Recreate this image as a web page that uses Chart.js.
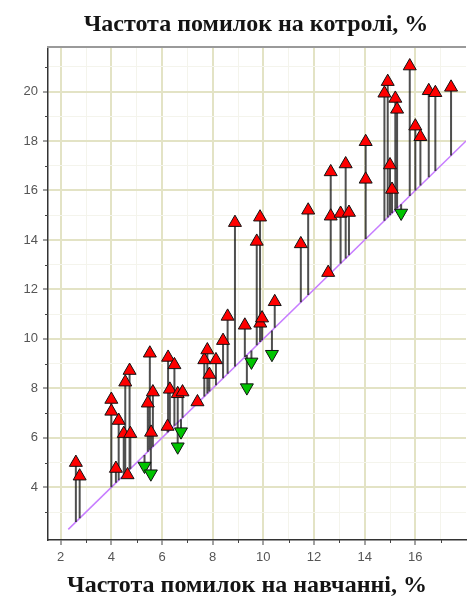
<!DOCTYPE html>
<html>
<head>
<meta charset="utf-8">
<script src="https://cdn.jsdelivr.net/npm/chart.js@4.4.1/dist/chart.umd.min.js"></script>
<style>
  html, body { margin: 0; padding: 0; background: #ffffff; }
  #wrap { width: 468px; height: 597px; position: relative; }
</style>
</head>
<body>
<div id="wrap"><canvas id="chart" width="468" height="597"></canvas></div>
<script>
// Axis titles
const titleTop = 'Частота помилок на котролі, %';
const titleBottom = 'Частота помилок на навчанні, %';

// Tick values (labelled every 2, minor marks in between)
const xTickValues = [2, 3, 4, 5, 6, 7, 8, 9, 10, 11, 12, 13, 14, 15, 16, 17];
const yTickValues = [3, 4, 5, 6, 7, 8, 9, 10, 11, 12, 13, 14, 15, 16, 17, 18, 19, 20, 21];

// Cases where the control error is higher than the training error
const upTrain = [2.6, 2.75, 4.0, 4.0, 4.18, 4.29, 4.49, 4.55, 4.64, 4.72, 4.75, 5.44, 5.52, 5.57, 5.64,
  6.22, 6.24, 6.31, 6.49, 6.62, 6.81, 7.4, 7.67, 7.79, 7.87, 8.13, 8.41, 8.59, 8.88, 9.27,
  9.74, 9.87, 9.88, 9.95, 10.45, 11.48, 11.77, 12.56, 12.66, 12.66, 13.05, 13.25, 13.38, 14.04, 14.04,
  14.78, 14.91, 15.0, 15.08, 15.21, 15.28, 15.78, 16.0, 16.2, 16.53, 16.79, 17.41];
const upControl = [5.0, 4.45, 7.55, 7.07, 4.76, 6.7, 6.17, 8.25, 4.5, 8.72, 6.17, 7.4, 9.42, 6.22, 7.85,
  6.46, 9.25, 7.96, 8.95, 7.78, 7.85, 7.45, 9.15, 9.55, 8.56, 9.15, 9.93, 10.91, 14.7, 10.55,
  13.94, 14.92, 10.63, 10.84, 11.5, 13.84, 15.2, 12.68, 16.75, 14.96, 15.07, 17.07, 15.11, 17.97, 16.45,
  19.93, 20.4, 17.03, 16.04, 19.72, 19.28, 21.03, 18.6, 18.17, 20.03, 19.95, 20.17];

// Cases where the control error is lower than the training error
const downTrain = [5.31, 5.56, 6.62, 6.75, 9.35, 9.53, 10.34, 15.44];
const downControl = [4.86, 4.55, 5.64, 6.25, 8.03, 9.07, 9.38, 15.09];

// Ends of the equal-error line y = x
const diagonalEnds = [2.3, 18];

const toPoints = (xs, ys) => xs.map((x, i) => ({ x: x, y: ys[i] }));

// Vertical stems from the y = x line to each case, separated by gaps
function stems(xs, ys) {
  const out = [];
  xs.forEach((x, i) => {
    out.push({ x: x, y: x });
    out.push({ x: x, y: ys[i] });
    out.push({ x: x, y: null });
  });
  return out;
}

const gridMajor = '#e3e3c5';
const gridMinor = '#f4f4ec';

const isMajor = v => Math.abs(v % 2) < 1e-9;

const decorPlugin = {
  id: 'decor',
  afterDraw(chart) {
    const { ctx, chartArea, scales } = chart;
    ctx.save();
    // top frame line
    ctx.strokeStyle = '#9a9a9a';
    ctx.lineWidth = 2;
    ctx.beginPath();
    ctx.moveTo(chartArea.left - 1, chartArea.top);
    ctx.lineTo(chartArea.right, chartArea.top);
    ctx.stroke();
    // short minor tick marks
    ctx.strokeStyle = '#444';
    ctx.lineWidth = 1;
    yTickValues.filter(v => !isMajor(v)).forEach(v => {
      const py = Math.round(scales.y.getPixelForValue(v)) + 0.5;
      ctx.beginPath();
      ctx.moveTo(chartArea.left - 3, py);
      ctx.lineTo(chartArea.left, py);
      ctx.stroke();
    });
    xTickValues.filter(v => !isMajor(v)).forEach(v => {
      const px = Math.round(scales.x.getPixelForValue(v)) + 0.5;
      ctx.beginPath();
      ctx.moveTo(px, chartArea.bottom);
      ctx.lineTo(px, chartArea.bottom + 3);
      ctx.stroke();
    });
    // titles
    ctx.fillStyle = '#141414';
    ctx.font = 'bold 24px "Liberation Serif", "DejaVu Serif", serif';
    ctx.textAlign = 'center';
    ctx.textBaseline = 'middle';
    ctx.fillText(titleTop, 256, 25);
    ctx.fillText(titleBottom, 247, 586);
    ctx.restore();
  }
};

const tickFont = { family: '"Liberation Sans", Arial, sans-serif', size: 13 };

new Chart(document.getElementById('chart'), {
  type: 'scatter',
  data: {
    datasets: [
      {
        label: 'up',
        data: toPoints(upTrain, upControl),
        pointStyle: 'triangle',
        pointRadius: 7.5,
        pointHoverRadius: 7.5,
        backgroundColor: '#ff0000',
        borderColor: '#111111',
        borderWidth: 1,
        order: 1
      },
      {
        label: 'down',
        data: toPoints(downTrain, downControl),
        pointStyle: 'triangle',
        pointRotation: 180,
        pointRadius: 7.5,
        pointHoverRadius: 7.5,
        backgroundColor: '#00c400',
        borderColor: '#111111',
        borderWidth: 1,
        order: 2
      },
      {
        label: 'stems',
        data: stems(upTrain.concat(downTrain), upControl.concat(downControl)),
        showLine: true,
        spanGaps: false,
        pointRadius: 0,
        borderColor: 'rgba(20,20,20,0.75)',
        borderWidth: 2,
        order: 3
      },
      {
        label: 'y = x',
        data: toPoints(diagonalEnds, diagonalEnds),
        showLine: true,
        pointRadius: 0,
        borderColor: '#c77dff',
        borderWidth: 1.5,
        order: 4
      }
    ]
  },
  options: {
    responsive: false,
    animation: false,
    layout: { autoPadding: false, padding: { left: 0, right: 2, top: 47, bottom: 0 } },
    plugins: {
      legend: { display: false },
      tooltip: { enabled: false },
      title: { display: false }
    },
    scales: {
      x: {
        type: 'linear',
        min: 1.5,
        max: 18,
        afterBuildTicks: s => { s.ticks = xTickValues.map(v => ({ value: v })); },
        afterFit: s => { s.height = 57; s.paddingLeft = 0; s.paddingRight = 0; },
        ticks: {
          autoSkip: false,
          maxRotation: 0,
          padding: 5,
          color: '#555',
          font: tickFont,
          callback: v => (isMajor(v) ? String(v) : '')
        },
        grid: {
          color: c => (c.tick && isMajor(c.tick.value) ? gridMajor : gridMinor),
          lineWidth: c => (c.tick && isMajor(c.tick.value) ? 2 : 1),
          tickColor: c => (c.tick && isMajor(c.tick.value) ? '#444' : 'rgba(0,0,0,0)'),
          tickLength: 5,
          tickWidth: 1
        },
        border: { color: '#333', width: 1.5 }
      },
      y: {
        type: 'linear',
        min: 1.87,
        max: 21.8,
        afterBuildTicks: s => { s.ticks = yTickValues.map(v => ({ value: v })); },
        afterFit: s => { s.width = 48; s.paddingTop = 0; s.paddingBottom = 0; },
        ticks: {
          autoSkip: false,
          padding: 5,
          color: '#555',
          font: tickFont,
          callback: v => (isMajor(v) ? String(v) : '')
        },
        grid: {
          color: c => (c.tick && isMajor(c.tick.value) ? gridMajor : gridMinor),
          lineWidth: c => (c.tick && isMajor(c.tick.value) ? 2 : 1),
          tickColor: c => (c.tick && isMajor(c.tick.value) ? '#444' : 'rgba(0,0,0,0)'),
          tickLength: 5,
          tickWidth: 1
        },
        border: { color: '#333', width: 1.5 }
      }
    }
  },
  plugins: [decorPlugin]
});
</script>
</body>
</html>
